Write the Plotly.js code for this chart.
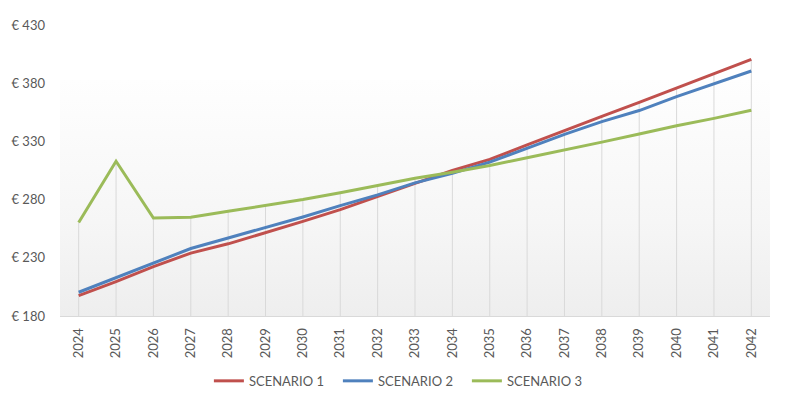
<!DOCTYPE html>
<html>
<head>
<meta charset="utf-8">
<script src="https://cdn.plot.ly/plotly-3.0.1.min.js"></script>
<style>
  html, body { margin: 0; padding: 0; background: #ffffff; }
  #wrap { position: relative; width: 789px; height: 398px; }
  #bg { position: absolute; left: 60px; top: 80px; width: 710px; height: 236px;
        background: linear-gradient(to bottom, #fefefe 0%, #f6f6f6 60%, #eeeeee 100%); }
  #chart { position: absolute; left: 0; top: 0; width: 789px; height: 398px; }
</style>
</head>
<body>
<div id="wrap">
  <div id="bg"></div>
  <div id="chart"></div>
</div>
<script>
const years = ["2024","2025","2026","2027","2028","2029","2030","2031","2032","2033","2034","2035","2036","2037","2038","2039","2040","2041","2042"];
const scenario1 = [197.5, 209.6, 222.5, 234, 242, 251.5, 261.3, 271.4, 282.9, 294, 305, 314.5, 327, 339.5, 351.5, 363.5, 376, 388.5, 400.5];
const scenario2 = [200.4, 213, 225.4, 238, 247, 256, 265.1, 274.8, 284, 294.4, 302.5, 312.2, 324, 336, 347, 356.5, 368.5, 379.7, 390.5];
const scenario3 = [260.4, 313, 264.2, 264.8, 270, 275, 280, 285.8, 292.3, 298.4, 303.5, 309.3, 316, 323, 329.4, 336.3, 343.5, 349.8, 356.8];
const names = ["SCENARIO 1", "SCENARIO 2", "SCENARIO 3"];
const colors = ["#C0504D", "#4F81BD", "#9BBB59"];
const yTicks = [180, 230, 280, 330, 380, 430];
const yMin = 180, yMax = 430;

const series = [scenario1, scenario2, scenario3];

// Excel-style drop lines: from the highest series value at each year down to the axis
const dropX = [], dropY = [];
years.forEach((yr, i) => {
  const top = Math.max(scenario1[i], scenario2[i], scenario3[i]);
  dropX.push(yr, yr, null);
  dropY.push(yMin, top, null);
});
const dropTrace = {
  type: "scatter",
  mode: "lines",
  x: dropX,
  y: dropY,
  line: { color: "#d9d9d9", width: 1 },
  showlegend: false,
  hoverinfo: "skip",
  connectgaps: false
};

const traces = [dropTrace].concat(series.map((s, i) => ({
  type: "scatter",
  mode: "lines",
  x: years,
  y: s,
  name: names[i],
  line: { color: colors[i], width: 3 },
  hoverinfo: "x+y+name"
})));

const font = { family: "Lato, 'Open Sans', sans-serif", size: 13, color: "#595959" };

const layout = {
  width: 789,
  height: 398,
  margin: { l: 60, r: 19, t: 25, b: 82, autoexpand: false },
  paper_bgcolor: "rgba(0,0,0,0)",
  plot_bgcolor: "rgba(0,0,0,0)",
  font: font,
  showlegend: true,
  legend: {
    orientation: "h",
    xref: "container",
    yref: "container",
    x: 0.51, xanchor: "center",
    y: 0.043, yanchor: "middle",
    font: font,
    bgcolor: "rgba(0,0,0,0)",
    itemwidth: 30,
    entrywidth: 84,
    entrywidthmode: "pixels",
    tracegroupgap: 0
  },
  xaxis: {
    type: "category",
    categoryorder: "array",
    categoryarray: years,
    range: [-0.5, years.length - 0.5],
    showgrid: false,
    showline: true,
    linecolor: "#d9d9d9",
    linewidth: 1,
    ticks: "",
    tickangle: -90,
    ticklabelstandoff: 6,
    tickfont: font,
    zeroline: false,
    fixedrange: true
  },
  yaxis: {
    range: [yMin, yMax],
    tickvals: yTicks,
    ticktext: yTicks.map(v => "€ " + v),
    showgrid: false,
    zeroline: false,
    showline: false,
    ticks: "",
    ticklabelstandoff: 14,
    tickfont: font,
    fixedrange: true
  }
};

Plotly.newPlot("chart", traces, layout, { displayModeBar: false, staticPlot: true });
</script>
</body>
</html>
